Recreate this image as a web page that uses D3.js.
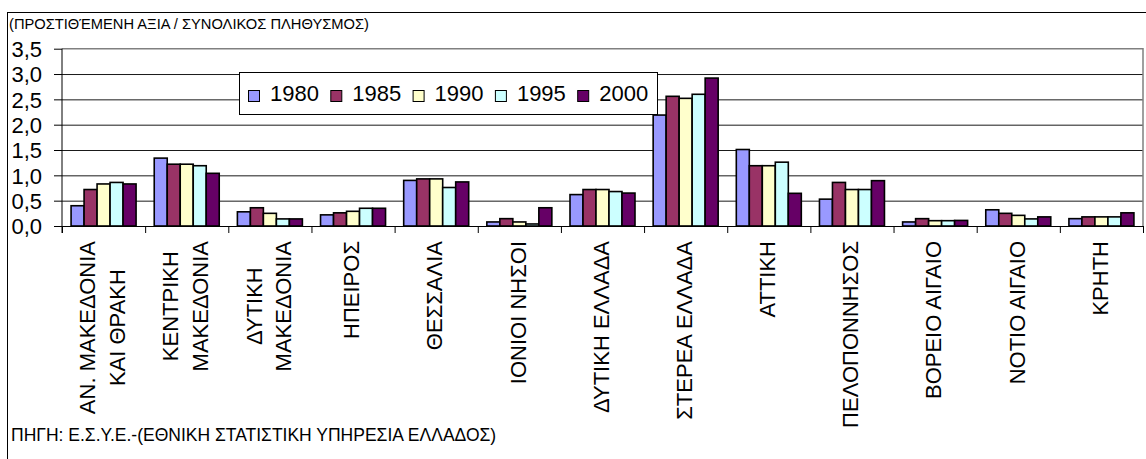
<!DOCTYPE html>
<html>
<head>
<meta charset="utf-8">
<script src="https://cdn.jsdelivr.net/npm/d3@7/dist/d3.min.js"></script>
<style>
  html, body { margin: 0; padding: 0; background: #fff; }
  svg { display: block; }
  text { font-family: "Liberation Sans", Arial, sans-serif; fill: #000; }
</style>
</head>
<body>
<svg id="chart" width="1146" height="459"></svg>
<script>
// ---- data ----
const categories = [
  "ΑΝ. ΜΑΚΕΔΟΝΙΑ\nΚΑΙ ΘΡΑΚΗ",
  "ΚΕΝΤΡΙΚΗ\nΜΑΚΕΔΟΝΙΑ",
  "ΔΥΤΙΚΗ\nΜΑΚΕΔΟΝΙΑ",
  "ΗΠΕΙΡΟΣ",
  "ΘΕΣΣΑΛΙΑ",
  "ΙΟΝΙΟΙ ΝΗΣΟΙ",
  "ΔΥΤΙΚΗ ΕΛΛΑΔΑ",
  "ΣΤΕΡΕΑ ΕΛΛΑΔΑ",
  "ΑΤΤΙΚΗ",
  "ΠΕΛΟΠΟΝΝΗΣΟΣ",
  "ΒΟΡΕΙΟ ΑΙΓΑΙΟ",
  "ΝΟΤΙΟ ΑΙΓΑΙΟ",
  "ΚΡΗΤΗ"
];
const seriesNames = ["1980", "1985", "1990", "1995", "2000"];
const s1980 = [0.40, 1.34, 0.28, 0.22, 0.90, 0.08, 0.62, 2.19, 1.51, 0.53, 0.08, 0.32, 0.145];
const s1985 = [0.72, 1.22, 0.36, 0.26, 0.93, 0.145, 0.72, 2.56, 1.19, 0.86, 0.145, 0.25, 0.18];
const s1990 = [0.83, 1.22, 0.25, 0.29, 0.93, 0.08, 0.72, 2.52, 1.19, 0.72, 0.105, 0.21, 0.18];
const s1995 = [0.86, 1.19, 0.14, 0.35, 0.76, 0.04, 0.68, 2.60, 1.26, 0.72, 0.105, 0.14, 0.18];
const s2000 = [0.83, 1.04, 0.14, 0.35, 0.87, 0.36, 0.65, 2.92, 0.645, 0.895, 0.11, 0.18, 0.26];
const seriesValues = [s1980, s1985, s1990, s1995, s2000];
const yTicks = [0, 0.5, 1.0, 1.5, 2.0, 2.5, 3.0, 3.5];
const titleText = "(ΠΡΟΣΤΙΘΈΜΕΝΗ ΑΞΙΑ / ΣΥΝΟΛΙΚΟΣ ΠΛΗΘΥΣΜΟΣ)";
const sourceText = "ΠΗΓΗ: Ε.Σ.Υ.Ε.-(ΕΘΝΙΚΗ ΣΤΑΤΙΣΤΙΚΗ ΥΠΗΡΕΣΙΑ ΕΛΛΑΔΟΣ)";

// ---- styles ----
const colors = ["#9999FF", "#993366", "#FFFFCC", "#CCFFFF", "#660066"];
const plot = { left: 62, right: 1143, top: 48.7, bottom: 226 };

const svg = d3.select("#chart");

// outer chart border
svg.append("rect")
  .attr("x", 7.5).attr("y", 12.5)
  .attr("width", 1150).attr("height", 460)
  .attr("fill", "#fff").attr("stroke", "#000").attr("stroke-width", 1);

// scales
const x = d3.scaleBand().domain(d3.range(categories.length)).range([plot.left, plot.right]);
const inner = d3.scaleBand().domain(d3.range(seriesNames.length)).range([0, 65]);
const innerOffset = (x.bandwidth() - 65) / 2;
const y = d3.scaleLinear().domain([0, 3.5]).range([plot.bottom, plot.top]);
const xb = d3.scaleLinear().domain([0, categories.length]).range([plot.left, plot.right]);

// gridlines
svg.append("g")
  .attr("transform", `translate(${plot.left},0)`)
  .call(d3.axisLeft(y).tickValues(yTicks.filter(t => t > 0 && t < 3.5)).tickSize(-(plot.right - plot.left)).tickFormat(""))
  .call(g => g.select(".domain").remove())
  .call(g => g.selectAll("line").attr("stroke", "#1a1a1a").attr("stroke-width", 1));

// plot area border top & right (gray)
svg.append("path")
  .attr("d", `M${plot.left},${y(3.5)}H${plot.right}V${plot.bottom}`)
  .attr("fill", "none").attr("stroke", "#808080").attr("stroke-width", 1.5);

// bars
const barData = [];
seriesValues.forEach((vals, si) => vals.forEach((v, ci) => barData.push({ si, ci, v })));
svg.append("g").selectAll("rect").data(barData).join("rect")
  .attr("x", d => x(d.ci) + innerOffset + inner(d.si))
  .attr("y", d => y(d.v))
  .attr("width", inner.bandwidth())
  .attr("height", d => y(0) - y(d.v))
  .attr("fill", d => colors[d.si])
  .attr("stroke", "#000").attr("stroke-width", 1.6);

// y axis
const yAxis = svg.append("g")
  .attr("transform", `translate(${plot.left},0)`)
  .call(d3.axisLeft(y).tickValues(yTicks).tickSize(8).tickPadding(12)
    .tickFormat(d => d3.format(".1f")(d).replace(".", ",")));
yAxis.select(".domain").remove();
yAxis.selectAll("line").attr("stroke", "#000");
yAxis.selectAll("text").attr("font-size", 22).attr("font-family", "Liberation Sans, Arial, sans-serif").attr("dy", "0.36em");
svg.append("line").attr("x1", plot.left).attr("x2", plot.left).attr("y1", y(3.5)).attr("y2", plot.bottom + 7).attr("stroke", "#000");

// x axis with ticks at category boundaries
const xAxis = svg.append("g")
  .attr("transform", `translate(0,${plot.bottom})`)
  .call(d3.axisBottom(xb).tickValues(d3.range(categories.length + 1)).tickSize(7).tickFormat(""));
xAxis.select(".domain").attr("stroke", "#000").attr("d", `M${plot.left},0.5H${plot.right}`);
xAxis.selectAll("line").attr("stroke", "#000");

// category labels (rotated)
const labelTop = 241;
const lineGap = 29.3;
categories.forEach((c, i) => {
  const lines = c.split("\n");
  const cx = x(i) + x.bandwidth() / 2;
  const n = lines.length;
  const g = svg.append("g");
  const texts = lines.map((ln, k) => {
    const bx = cx + 6.3 + (k - (n - 1) / 2) * lineGap;
    return g.append("text").text(ln).attr("font-size", 22)
      .attr("text-anchor", "middle")
      .attr("data-bx", bx);
  });
  const maxLen = d3.max(texts, t => t.node().getComputedTextLength());
  texts.forEach(t => {
    const bx = +t.attr("data-bx");
    const cy = labelTop + maxLen / 2;
    t.attr("transform", `translate(${bx},${cy}) rotate(-90)`);
  });
});

// title and source
svg.append("text").attr("x", 9).attr("y", 29).attr("font-size", 14.7).text(titleText);
svg.append("text").attr("x", 11).attr("y", 441).attr("font-size", 17.5).text(sourceText);

// legend
const lg = svg.append("g");
lg.append("rect").attr("x", 239.5).attr("y", 72.5).attr("width", 418).attr("height", 42)
  .attr("fill", "#fff").attr("stroke", "#000").attr("stroke-width", 1);
seriesNames.forEach((s, i) => {
  const lx = 248.5 + i * 82.3;
  lg.append("rect").attr("x", lx).attr("y", 90.5).attr("width", 11).attr("height", 11)
    .attr("fill", colors[i]).attr("stroke", "#000").attr("stroke-width", 1);
  lg.append("text").attr("x", lx + 21.5).attr("y", 100.5).attr("font-size", 22).text(s);
});
</script>
</body>
</html>
